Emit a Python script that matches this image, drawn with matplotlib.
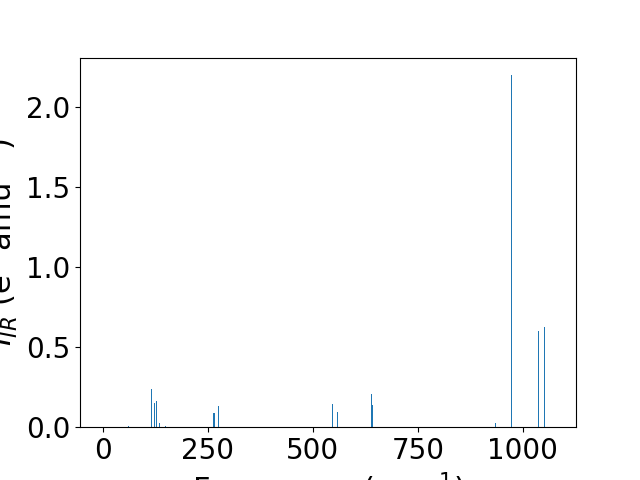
import matplotlib
matplotlib.use("Agg")
import matplotlib.pyplot as plt

# frekvence (cm^-1) a IR intenzity
freq = [0, 60, 115, 122, 127, 134, 148, 263, 266, 275, 398, 479,
        546, 558, 560, 639, 641, 934, 973, 1037, 1051, 1072]
inten = [0.0, 0.006, 0.238, 0.150, 0.163, 0.025, 0.006, 0.088, 0.088, 0.130,
         0.012, 0.010, 0.144, 0.094, 0.106, 0.206, 0.138, 0.025, 2.196,
         0.600, 0.625, 0.0]

plt.rcParams["font.size"] = 20

fig, ax = plt.subplots(figsize=(6.4, 4.8), dpi=100)
ax.bar(freq, inten, width=2)
ax.set_xlabel("Frequency (cm$^{-1}$)", fontsize=22)
ax.set_ylabel("$I_{IR}$ (e$^2$ amu$^{-1}$)", fontsize=22)
ax.set_xticks([0, 250, 500, 750, 1000])
plt.savefig("out.png")
